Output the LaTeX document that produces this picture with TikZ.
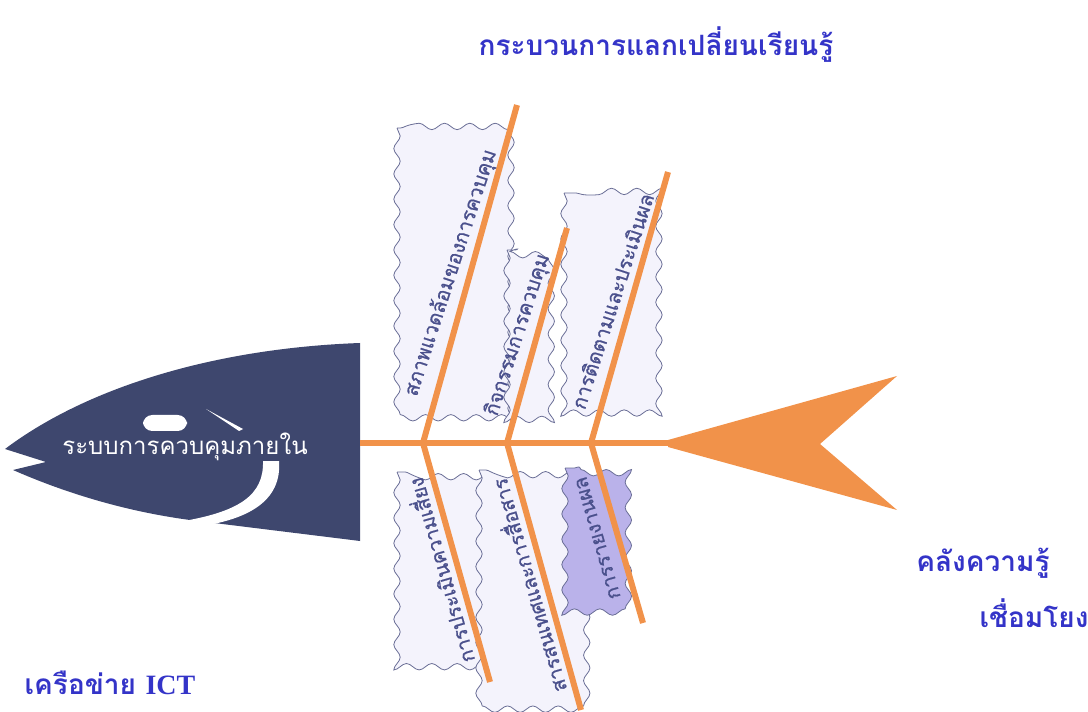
\documentclass[tikz,border=0pt]{standalone}
\usepackage{fontspec}
\setmainfont{Liberation Serif}
\newfontfamily\thaifont[Script=Thai]{Loma}
\newfontfamily\cardfont[Script=Thai,FakeBold=0.8]{Loma}
\usetikzlibrary{decorations.pathmorphing}
\definecolor{bone_orange}{RGB}{241,146,74}
\definecolor{head_navy}{RGB}{62,71,110}
\definecolor{card_fill}{RGB}{244,243,252}
\definecolor{card_line}{RGB}{106,110,150}
\definecolor{card_purple}{RGB}{186,178,234}
\definecolor{card_text}{RGB}{74,80,140}
\definecolor{label_blue}{RGB}{52,52,200}
\tikzstyle{bone}=[draw=bone_orange,line width=4.5pt]
\tikzstyle{card}=[fill=card_fill,draw=card_line,line width=0.6pt,
  decorate,decoration={snake,segment length=19pt,amplitude=2.4pt}]
\tikzstyle{cardtext}=[text=card_text,inner sep=0pt,
  font=\cardfont\fontsize{15}{15}\selectfont]
\tikzstyle{bluelabel}=[text=label_blue,inner sep=0pt,
  font=\thaifont\bfseries\fontsize{21}{21}\selectfont]

\begin{document}
\begin{tikzpicture}[x=0.75pt,y=-0.75pt]
    \useasboundingbox (0,0) rectangle (1088,712);
    \coordinate (h) at (360,443);
    \coordinate (j1) at (423,443);
    \coordinate (j2) at (507,443);
    \coordinate (j3) at (591,443);
    \coordinate (t) at (672,443);
    \coordinate (u1) at (517,105);
    \coordinate (u2) at (567,228);
    \coordinate (u3) at (668,172);
    \coordinate (d1) at (490,682);
    \coordinate (d2) at (581,710);
    \coordinate (d3) at (643,623);
    % cards behind the bones
    \path[card] (397,128) rectangle (508,413);
    \path[card] (507,250) rectangle (562,416);
    \path[card] (564,193) rectangle (659,416);
    \path[card] (397,472) rectangle (480,667);
    \path[card] (479,470) rectangle (580,697);
    \path[card,fill=card_purple] (565,468) rectangle (637,605);
    \node[cardtext,rotate=72] (ta) at (451,273) {สภาพแวดล้อมของการควบคุม};
    \node[cardtext,rotate=72] (tb) at (518,335) {กิจกรรมการควบคุม};
    \node[cardtext,rotate=72] (tc) at (612,301) {การติดตามและประเมินผล};
    \node[cardtext,rotate=106] (td) at (439,571) {การประเมินความเสี่ยง};
    \node[cardtext,rotate=106] (te) at (527,586) {สารสนเทศและการสื่อสาร};
    \node[cardtext,rotate=106] (tf) at (598,538) {การรายงานผล};
    % head
    \fill[head_navy] (360,343) .. controls (220,348) and (90,385) .. (5,449)
      -- (46,462) -- (13,470) .. controls (70,495) and (130,512) .. (190,520)
      -- (360,541) -- cycle;
    \fill[white] (263,461) -- (279,461) .. controls (282,500) and (250,522) .. (185,528)
      -- (178,522) .. controls (240,512) and (264,495) .. (263,461) -- cycle;
    \fill[white,rounded corners=7] (143,415) rectangle (187,431);
    \fill[white] (206,409) -- (243,429) -- (239,431) -- cycle;
    \node[text=white,inner sep=0pt,font=\thaifont\fontsize{18}{18}\selectfont]
      (head_label) at (185,447) {ระบบการควบคุมภายใน};
    % spine, tail and bones
    \draw[bone] (h) to (t);
    \fill[bone_orange] (668,440) -- (897,376) -- (820,444) -- (897,510)
      -- (668,447) -- cycle;
    \draw[bone] (j1) to (u1);
    \draw[bone] (j2) to (u2);
    \draw[bone] (j3) to (u3);
    \draw[bone] (j1) to (d1);
    \draw[bone] (j2) to (d2);
    \draw[bone] (j3) to (d3);
    \node[bluelabel] (title) at (656,45) {กระบวนการแลกเปลี่ยนเรียนรู้};
    \node[bluelabel] (store) at (983,563) {คลังความรู้};
    \node[bluelabel] (link) at (1034,613) {เชื่อมโยง};
    \node[bluelabel] (net) at (110,683) {เครือข่าย {\rmfamily\bfseries ICT}};
\end{tikzpicture}
\end{document}
